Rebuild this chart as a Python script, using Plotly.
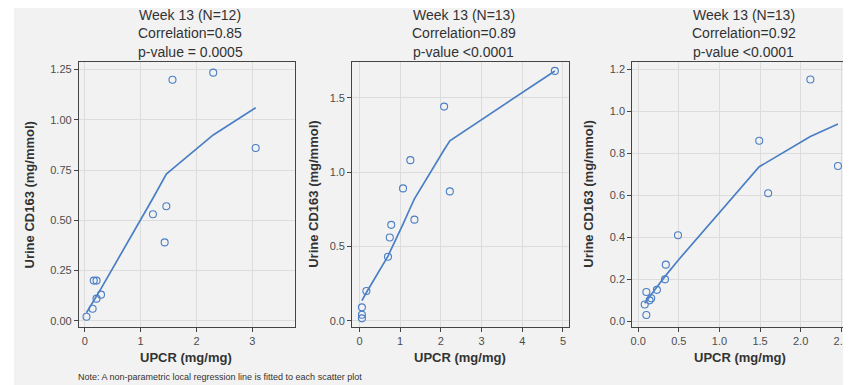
import plotly.graph_objects as go

OFF = 8  # page body margin
W, H = 851 - OFF, 385 - OFF

# ---- data ----
titles = [
    ["Week 13 (N=12)", "Correlation=0.85", "p-value = 0.0005"],
    ["Week 13 (N=13)", "Correlation=0.89", "p-value <0.0001"],
    ["Week 13 (N=13)", "Correlation=0.92", "p-value <0.0001"],
]

p1_x = [0.03, 0.14, 0.16, 0.21, 0.21, 0.29, 1.22, 1.46, 1.43, 3.06, 1.57, 2.30]
p1_y = [0.02, 0.06, 0.20, 0.20, 0.11, 0.13, 0.53, 0.57, 0.39, 0.86, 1.20, 1.235]
p1_fx = [0.03, 0.14, 0.16, 0.21, 0.29, 1.22, 1.43, 1.46, 1.57, 2.30, 3.06]
p1_fy = [0.04, 0.09, 0.10, 0.12, 0.16, 0.61, 0.71, 0.73, 0.756, 0.925, 1.06]

p2_x = [4.80, 2.08, 1.25, 1.07, 2.22, 1.35, 0.78, 0.745, 0.70, 0.17, 0.06, 0.06, 0.06]
p2_y = [1.68, 1.44, 1.08, 0.89, 0.87, 0.68, 0.645, 0.56, 0.43, 0.20, 0.09, 0.04, 0.016]
p2_fx = [0.06, 0.17, 0.70, 0.745, 0.78, 1.07, 1.25, 1.35, 2.08, 2.22, 4.80]
p2_fy = [0.135, 0.19, 0.435, 0.46, 0.48, 0.65, 0.76, 0.82, 1.15, 1.21, 1.68]

p3_x = [2.12, 1.49, 1.60, 2.46, 0.49, 0.34, 0.33, 0.23, 0.10, 0.16, 0.14, 0.08, 0.10]
p3_y = [1.152, 0.86, 0.61, 0.74, 0.41, 0.27, 0.20, 0.15, 0.14, 0.11, 0.10, 0.08, 0.03]
p3_fx = [0.08, 0.10, 0.14, 0.16, 0.23, 0.33, 0.34, 0.49, 1.49, 1.60, 2.12, 2.46]
p3_fy = [0.086, 0.097, 0.118, 0.128, 0.163, 0.214, 0.219, 0.29, 0.736, 0.761, 0.88, 0.94]

x_title = "UPCR (mg/mg)"
y_title = "Urine CD163 (mg/mmol)"
note = "Note: A non-parametric local regression line is fitted to each scatter plot"

panels = [
    dict(x=p1_x, y=p1_y, fx=p1_fx, fy=p1_fy, xr=[-0.107, 3.77], yr=[-0.031, 1.288],
         xt=[0, 1, 2, 3], xtl=["0", "1", "2", "3"],
         yt=[0, 0.25, 0.5, 0.75, 1.0, 1.25], ytl=["0.00", "0.25", "0.50", "0.75", "1.00", "1.25"],
         px=[77, 294], ytx=28),
    dict(x=p2_x, y=p2_y, fx=p2_fx, fy=p2_fy, xr=[-0.179, 5.147], yr=[-0.042, 1.74],
         xt=[0, 1, 2, 3, 4, 5], xtl=["0", "1", "2", "3", "4", "5"],
         yt=[0, 0.5, 1.0, 1.5], ytl=["0.0", "0.5", "1.0", "1.5"],
         px=[351, 568.3], ytx=312),
    dict(x=p3_x, y=p3_y, fx=p3_fx, fy=p3_fy, xr=[-0.074, 2.596], yr=[-0.027, 1.235],
         xt=[0, 0.5, 1.0, 1.5, 2.0, 2.5], xtl=["0.0", "0.5", "1.0", "1.5", "2.0", "2.5"],
         yt=[0, 0.2, 0.4, 0.6, 0.8, 1.0, 1.2], ytl=["0.0", "0.2", "0.4", "0.6", "0.8", "1.0", "1.2"],
         px=[631.7, 849], ytx=587.5),
]


def fx_(px):
    return (px - OFF) / W


def fy_(py):
    return 1 - (py - OFF) / H


COL = "#4a7fc5"
BG = "#f2f2f2"
GRID = "#dcdcdc"
FONT = "Liberation Sans, Arial, sans-serif"
top_px, bot_px = 62, 327

fig = go.Figure()
layout = {}
annotations = []
for i, p in enumerate(panels):
    n = "" if i == 0 else str(i + 1)
    xa, ya = "x" + n, "y" + n
    fig.add_trace(go.Scatter(x=p["x"], y=p["y"], mode="markers", xaxis=xa, yaxis=ya,
                             marker=dict(symbol="circle-open", size=7, color=COL,
                                         line=dict(width=1.1, color=COL)),
                             showlegend=False, hoverinfo="x+y"))
    fig.add_trace(go.Scatter(x=p["fx"], y=p["fy"], mode="lines", xaxis=xa, yaxis=ya,
                             line=dict(color=COL, width=1.7), showlegend=False))
    axcommon = dict(showline=True, mirror=True, linecolor="#444444", linewidth=1,
                    ticks="outside", ticklen=4, tickcolor="#444444", tickwidth=1,
                    showgrid=True, gridcolor=GRID, gridwidth=1, zeroline=False,
                    tickfont=dict(size=11, color="#4d4d4d", family=FONT))
    layout["xaxis" + n] = dict(axcommon, domain=[fx_(p["px"][0]), fx_(p["px"][1])],
                               range=p["xr"], tickvals=p["xt"], ticktext=p["xtl"],
                               anchor=ya)
    layout["yaxis" + n] = dict(axcommon, domain=[fy_(bot_px), fy_(top_px)],
                               range=p["yr"], tickvals=p["yt"], ticktext=p["ytl"],
                               anchor=xa)
    cx = (p["px"][0] + p["px"][1]) / 2
    for j, (t, yy) in enumerate(zip(titles[i], [15, 33, 51.5])):
        annotations.append(dict(text=t, x=fx_(cx + 3), y=fy_(yy), xref="paper", yref="paper",
                                showarrow=False, xanchor="center", yanchor="middle",
                                font=dict(size=14, color="#333333", family=FONT)))
    annotations.append(dict(text="<b>" + x_title + "</b>", x=fx_(cx - 1), y=fy_(357.3),
                            xref="paper", yref="paper", showarrow=False,
                            xanchor="center", yanchor="middle",
                            font=dict(size=13, color="#333333", family=FONT)))
    annotations.append(dict(text="<b>" + y_title + "</b>", x=fx_(p["ytx"]),
                            y=fy_((top_px + bot_px) / 2),
                            xref="paper", yref="paper", showarrow=False, textangle=-90,
                            xanchor="center", yanchor="middle",
                            font=dict(size=13, color="#333333", family=FONT)))

annotations.append(dict(text=note, x=fx_(74), y=fy_(377), xref="paper", yref="paper",
                        showarrow=False, xanchor="left", yanchor="middle",
                        font=dict(size=9, color="#333333", family=FONT)))

fig.update_layout(**layout)
fig.update_layout(
    width=W, height=H, margin=dict(l=0, r=0, t=0, b=0),
    paper_bgcolor="white", plot_bgcolor=BG,
    annotations=annotations,
    shapes=[dict(type="rect", xref="paper", yref="paper", x0=fx_(12), x1=1, y0=0, y1=1,
                 fillcolor=BG, line=dict(width=0), layer="below")],
    font=dict(family=FONT),
)

fig.write_html("out.html")
